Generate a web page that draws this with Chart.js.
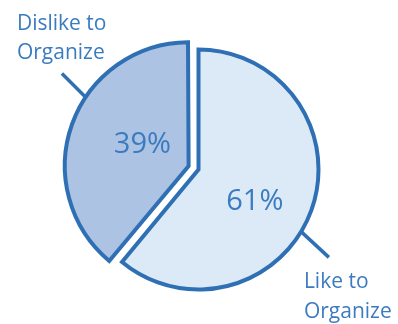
<!DOCTYPE html>
<html>
<head>
<meta charset="utf-8">
<script src="https://cdn.jsdelivr.net/npm/chart.js@4.4.0/dist/chart.umd.min.js"></script>
<style>
  html, body { margin: 0; padding: 0; background: #fff; }
  #wrap { width: 398px; height: 324px; }
</style>
</head>
<body>
<div id="wrap"><canvas id="chart"></canvas></div>
<script>
// slices go clockwise from 12 o'clock
const labels = ['Like to Organize', 'Dislike to Organize'];
const shares = [61, 39];
const calloutLines = [['Like to', 'Organize'], ['Dislike to', 'Organize']];

const blue = '#2f70b5';
const textBlue = '#3b7bc0';

const deg = a => a * Math.PI / 180 - Math.PI / 2;

const callouts = {
  id: 'callouts',
  afterDatasetsDraw(chart, args, opts) {
    const ctx = chart.ctx;
    const arcs = chart.getDatasetMeta(0).data;
    arcs.forEach((arc, i) => {
      const p = arc.getProps(['x', 'y', 'outerRadius', 'startAngle', 'endAngle', 'circumference'], true);
      const mid = (p.startAngle + p.endAngle) / 2;
      // chart.js moves an offset arc by offset/4 and grows it a bit
      const shift = (arc.options.offset || 0) / 4;
      const grow = shift * (1 - Math.sin(Math.min(Math.PI, p.circumference)));
      const cx = p.x + Math.cos(mid) * shift;
      const cy = p.y + Math.sin(mid) * shift;
      const r = p.outerRadius + grow;
      const it = opts.items[i];

      ctx.save();
      ctx.fillStyle = textBlue;
      ctx.textAlign = 'center';
      ctx.textBaseline = 'alphabetic';
      ctx.font = '29px "Open Sans"';
      const a = deg(it.pctAngle);
      ctx.fillText(shares[i] + '%', cx + Math.cos(a) * it.pctDist, cy + Math.sin(a) * it.pctDist + 10.5);

      // leader line
      const b = deg(it.lineAngle);
      const sx = cx + Math.cos(b) * (r + 1);
      const sy = cy + Math.sin(b) * (r + 1);
      const ex = sx + it.line[0], ey = sy + it.line[1];
      ctx.strokeStyle = blue;
      ctx.lineWidth = 3.5;
      ctx.beginPath();
      ctx.moveTo(sx, sy);
      ctx.lineTo(ex, ey);
      ctx.stroke();

      ctx.textAlign = 'left';
      ctx.font = '21px "Open Sans"';
      calloutLines[i].forEach((t, k) => {
        ctx.fillText(t, ex + it.text[0], ey + it.text[1] + k * 29.5);
      });
      ctx.restore();
    });
  }
};

new Chart(document.getElementById('chart'), {
  type: 'pie',
  data: {
    labels: labels,
    datasets: [{
      data: shares,
      backgroundColor: ['#dbeaf6', '#adc3e3'],
      borderColor: blue,
      borderWidth: 4,
      borderJoinStyle: 'miter',
      offset: [0, 42],
      radius: 120
    }]
  },
  options: {
    responsive: true,
    maintainAspectRatio: false,
    animation: false,
    events: [],
    layout: { padding: { left: 0, right: 1, top: 15, bottom: 0 } },
    plugins: {
      legend: { display: false },
      tooltip: { enabled: false },
      callouts: {
        items: [
          { pctAngle: 118.4, pctDist: 64, lineAngle: 121.3, line: [27, 25], text: [-25, 31] },
          { pctAngle: 297.2, pctDist: 52, lineAngle: 303.8, line: [-23, -23], text: [-45, -44] }
        ]
      }
    }
  },
  plugins: [callouts]
});
</script>
</body>
</html>
